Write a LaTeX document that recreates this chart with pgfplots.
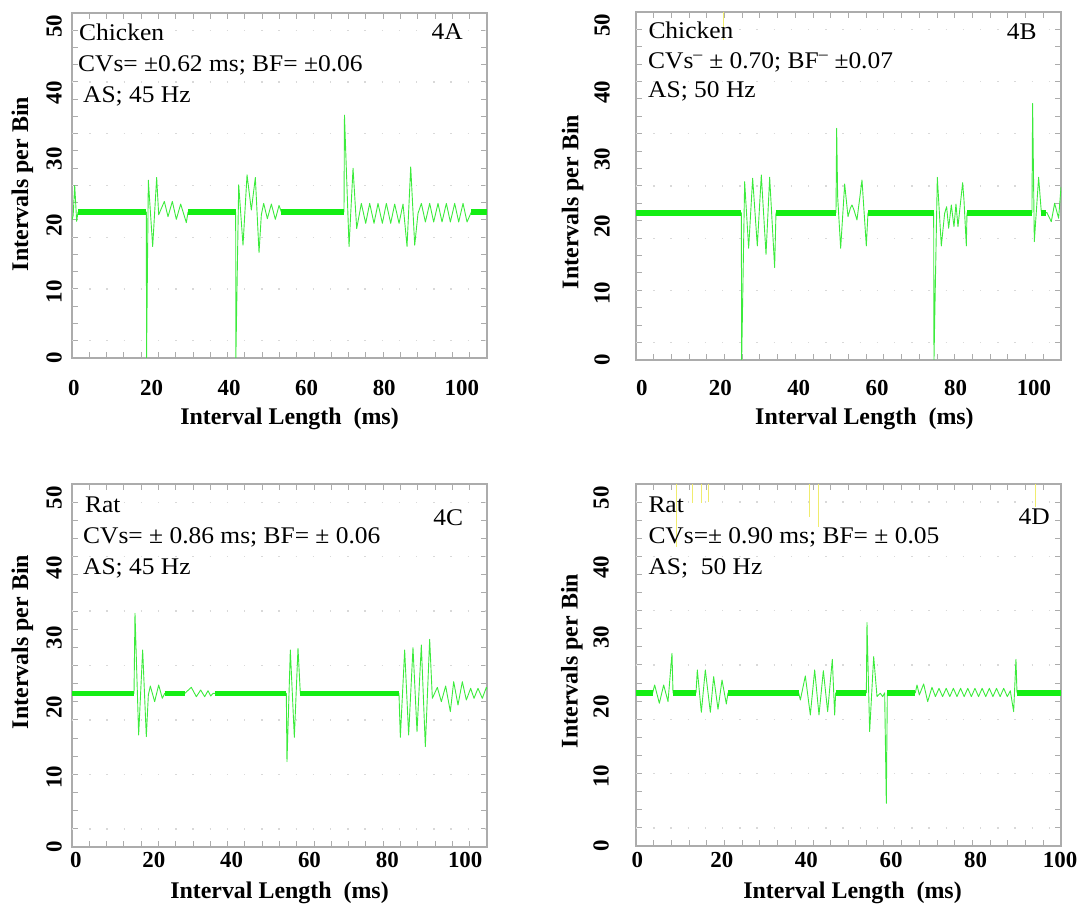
\documentclass[border=0pt]{standalone}
\usepackage{fontspec}
\setmainfont{Liberation Serif}
\newfontfamily\annot[FakeStretch=1.065,Ligatures=TeX]{Liberation Serif}
\usepackage{pgfplots}
\pgfplotsset{compat=1.18}

\definecolor{trace}{RGB}{20,238,20}
\definecolor{tracethin}{RGB}{60,235,60}
\definecolor{frame}{RGB}{172,172,172}
\definecolor{yel}{RGB}{240,236,110}

\pgfplotsset{panel/.style={
  scale only axis, anchor=south west,
  ymin=0, ymax=52,
  axis line style={draw=frame, line width=1.2bp},
  xtick={0,20,...,100}, ytick={0,10,...,50},
  minor ytick={0,2.6,...,52},
  major tick length=0pt, minor tick length=6bp,
  tick align=inside,
  tick style={draw=frame, line width=1bp},
  /pgf/number format/assume math mode=true,
  tick label style={font=\bfseries\fontsize{23}{23}\selectfont, inner sep=0pt},
  label style={font=\bfseries\fontsize{24}{24}\selectfont, inner sep=0pt},
  xlabel={Interval Length\ \ (ms)}, ylabel={Intervals per Bin},
  xlabel style={anchor=north},
  ylabel style={anchor=center},
  unbounded coords=jump,
  extra y ticks={2.6,10.4,18.2,26,33.8,41.6,49.4},
  extra y tick labels={},
  extra y tick style={grid=major, major grid style={draw=gray!30, line width=1.3bp, dash pattern=on 1.3bp off 15.9bp}},
}}

\begin{document}
\begin{tikzpicture}
\useasboundingbox (0,0) rectangle (1085bp,905bp);

% ---------------- 4A ----------------
\begin{axis}[panel, at={(72bp,547bp)}, width=415bp, height=345bp,
  xmin=-0.5, xmax=106.5, minor xtick={-0.5,3.9583,...,106.5},
  xticklabel style={anchor=north, yshift=-22bp},
  yticklabel style={xshift=-10bp, rotate=90, anchor=south},
  xlabel style={at={(axis description cs:0.5241,-0.1449)}},
  ylabel style={at={(axis description cs:-0.1193,0.5043)}}]
\addplot[tracethin, line width=0.9bp, line join=round] coordinates {
 (-0.5,20.8) (-0.2,21.5) (0.2,26.0) (0.5,22.8) (0.7,20.6) (1.05,22)
 (18.67,22) (18.72,0) (19.18,26.8) (20.30,16.8) (21.33,27.2) (21.85,21.6)
 (23.31,23.6) (24.25,21.3) (25.37,23.6) (26.40,20.9) (27.52,23.2) (28.98,20.4) (29.41,22)
 (41.70,22) (41.75,0) (42.48,26.1) (43.59,17.0) (44.63,27.6) (45.74,22.3) (46.77,27.2)
 (47.72,15.9) (48.32,21.6) (48.92,23.3) (49.87,21.0) (50.90,23.2) (51.93,20.9) (52.88,23.0) (53.48,22)
 (69.63,22) (69.75,36.6) (70.93,16.8) (71.96,28.6) (72.90,19.5)
 (74.10,23.3) (75.22,20.3) (76.25,23.3) (77.37,20.3) (78.40,23.3) (79.52,20.3) (80.55,23.3)
 (81.67,20.3) (82.70,23.2) (83.82,20.3) (84.85,23.2)
 (85.88,16.8) (86.83,28.8) (87.86,17.0) (88.71,21.8)
 (89.58,23.3) (90.61,20.5) (91.72,23.3) (92.75,20.5) (93.87,23.3) (94.90,20.5) (96.02,23.3)
 (97.05,20.5) (98.17,23.3) (99.20,20.5) (100.32,23.3) (101.35,20.5) (102.47,22) (106.5,22)
};
\addplot[trace, line width=5.5bp] coordinates {
 (1.05,22) (18.67,22) (0,nan) (29.41,22) (41.70,22) (0,nan)
 (53.48,22) (69.63,22) (0,nan) (102.47,22) (106.5,22)
};
\end{axis}

% ---------------- 4B ----------------
\begin{axis}[panel, at={(636bp,545bp)}, width=425bp, height=348bp,
  xmin=-1.5, xmax=106.9, minor xtick={-1.5,3.0167,...,106.9},
  xticklabel style={anchor=north, yshift=-20bp},
  yticklabel style={xshift=-26bp, rotate=90, anchor=south},
  xlabel style={at={(axis description cs:0.5376,-0.1379)}},
  ylabel style={at={(axis description cs:-0.1494,0.454)}}]
\addplot[yel, line width=1bp] coordinates {(20.94,52) (20.94,47.8)};
\addplot[tracethin, line width=0.9bp, line join=round] coordinates {
 (-1.5,22) (25.36,22) (25.45,0) (26.21,26.65) (27.23,16.69) (28.25,27.15) (29.44,17.04)
 (30.46,27.64) (31.66,15.79) (32.59,27.30) (33.86,13.80) (34.20,22)
 (49.51,22) (49.68,34.62) (49.93,24.41) (50.70,16.69) (51.72,26.30) (52.57,21.42) (53.16,22.66)
 (53.59,23.16) (54.10,22.41) (54.86,20.92) (56.14,26.90) (57.24,17.04) (57.67,22)
 (74.42,22) (74.50,0) (75.35,27.30) (76.37,17.04) (77.22,21.92) (77.73,22.91) (78.24,19.68)
 (78.92,23.16) (79.60,19.92) (80.11,23.31) (80.62,19.92) (81.81,26.50) (82.15,23.91) (82.75,17.04) (82.92,22)
 (99.49,22) (99.66,38.35) (100.09,17.68) (101.19,27.30) (101.87,22.17) (103.32,22.01)
 (104.42,20.67) (105.27,23.41) (106.29,21.17) (106.9,25.85)
};
\addplot[trace, line width=5.5bp] coordinates {
 (-1.5,22) (25.36,22) (0,nan) (34.20,22) (49.51,22) (0,nan)
 (57.67,22) (74.42,22) (0,nan) (82.92,22) (99.49,22) (0,nan) (101.9,22) (103.0,22)
};
\end{axis}

% ---------------- 4C ----------------
\begin{axis}[panel, at={(72bp,58bp)}, width=415bp, height=363bp,
  xmin=-1, xmax=105.6, minor xtick={-1,3.4417,...,105.6},
  xticklabel style={anchor=north, yshift=-5bp},
  yticklabel style={xshift=-10bp, rotate=90, anchor=south},
  xlabel style={at={(axis description cs:0.5,-0.0964)}},
  ylabel style={at={(axis description cs:-0.1193,0.5647)}}]
\addplot[tracethin, line width=0.9bp, line join=round] coordinates {
 (-1,22) (14.93,22) (15.18,33.47) (16.12,16.04) (17.15,28.22) (18.09,15.80) (18.61,21.77)
 (19.12,23.06) (20.23,20.82) (21.26,23.21) (22.20,21.30) (22.80,22)
 (27.94,22) (29.65,22.87) (30.94,21.53) (32.05,22.49) (33.08,21.53) (33.93,22.39) (34.62,21.63) (35.22,22) (35.64,22)
 (54.05,22) (54.22,12.22) (55.08,28.22) (56.11,15.71) (57.05,28.46) (57.65,22)
 (82.99,22) (83.34,15.71) (84.45,28.22) (85.47,16.04) (86.59,28.55) (87.62,16.52) (88.73,28.94)
 (89.76,14.37) (90.87,29.75) (91.56,21.30) (92.84,22.87) (93.87,20.82) (94.98,23.06) (96.18,19.39)
 (97.04,23.68) (98.15,20.34) (99.26,23.68) (100.29,21.06) (101.40,22.73) (102.26,21.30)
 (103.28,22.73) (104.40,21.30) (105.43,22.87) (105.6,22.6)
};
\addplot[trace, line width=5.5bp] coordinates {
 (-1,22) (14.93,22) (0,nan) (22.80,22) (27.94,22) (0,nan)
 (35.64,22) (54.05,22) (0,nan) (57.65,22) (82.99,22)
};
\end{axis}

% ---------------- 4D ----------------
\begin{axis}[panel, at={(636bp,59bp)}, width=425bp, height=362bp,
  xmin=-0.3, xmax=100.2, minor xtick={-0.3,3.8875,...,100.2},
  xticklabel style={anchor=north, yshift=-6bp},
  yticklabel style={xshift=-27bp, rotate=90, anchor=south},
  xlabel style={at={(axis description cs:0.5094,-0.0994)}},
  ylabel style={at={(axis description cs:-0.1506,0.511)}}]
\addplot[yel, line width=1bp] coordinates {
 (9.32,52) (9.32,42.96) (0,nan) (13.11,52) (13.11,49.28) (0,nan)
 (15.24,52) (15.24,49.28) (0,nan) (16.96,52) (16.96,49.4) (0,nan)
 (40.84,52) (40.84,47.27) (0,nan) (42.81,52) (42.81,45.83) (0,nan)
 (94.28,52) (94.28,48.7)
};
\addplot[tracethin, line width=0.9bp, line join=round] coordinates {
 (-0.3,22) (3.64,22) (4.11,23.13) (5.22,20.50) (6.24,23.13) (7.27,20.74) (8.21,27.68) (8.45,22)
 (13.89,22) (14.20,25.29) (15.15,19.21) (16.09,25.29) (17.28,19.21) (18.06,24.33) (19.09,19.64)
 (20.04,23.85) (21.06,20.40) (21.45,22)
 (38.16,22) (38.56,20.98) (39.74,24.43) (40.92,18.82) (41.95,25.29) (42.97,18.82) (44.00,25.19)
 (45.02,19.30) (46.12,26.82) (46.68,18.82) (46.91,22)
 (54.17,22) (54.32,32.09) (54.95,16.43) (55.90,27.20) (56.69,21.46) (57.47,21.94) (58.03,21.46)
 (58.50,22) (58.89,6.13) (59.13,22)
 (65.75,22) (66.15,23.13) (66.70,21.70) (67.72,23.28) (68.67,20.74) (69.69,22.80)
 (70.50,21.46) (71.35,22.65) (72.20,21.46) (73.05,22.65) (73.90,21.46) (74.75,22.65) (75.60,21.46)
 (76.45,22.65) (77.30,21.46) (78.15,22.65) (79.00,21.46) (79.85,22.65) (80.70,21.46) (81.55,22.65)
 (82.40,21.46) (83.25,22.65) (84.10,21.46) (84.95,22.65) (85.80,21.46) (86.65,22.65) (87.50,21.46)
 (88.21,22.3) (89.00,19.30) (89.55,26.82) (89.79,22) (100.2,22)
};
\addplot[trace, line width=5.5bp] coordinates {
 (-0.3,22) (3.64,22) (0,nan) (8.45,22) (13.89,22) (0,nan) (21.45,22) (38.16,22) (0,nan)
 (46.91,22) (54.17,22) (0,nan) (59.13,22) (65.75,22) (0,nan) (89.79,22) (100.2,22)
};
\end{axis}

% ---------------- panel texts ----------------
\begin{scope}[every node/.style={inner sep=0pt, font=\annot\fontsize{24}{24}\selectfont}]
\node[anchor=base west] at (79bp,864.3bp) {Chicken};
\node[anchor=base west] at (78bp,833.3bp) {CVs= ±0.62 ms; BF= ±0.06};
\node[anchor=base west] at (83bp,802.3bp) {AS; 45 Hz};
\node[anchor=base east] at (463bp,865bp) {4A};

\node[anchor=base west] at (648.3bp,866bp) {Chicken};
\node[anchor=base west] at (648bp,836.7bp) {CVs\textsuperscript{\textendash} ± 0.70; BF\textsuperscript{\textendash} ±0.07};
\node[anchor=base west] at (648bp,807.3bp) {AS; 50 Hz};
\node[anchor=base east] at (1036.7bp,865bp) {4B};

\node[anchor=base west] at (85bp,392.3bp) {Rat};
\node[anchor=base west] at (83bp,361.7bp) {CVs= ± 0.86 ms; BF= ± 0.06};
\node[anchor=base west] at (83bp,330bp) {AS; 45 Hz};
\node[anchor=base east] at (463.3bp,379.3bp) {4C};

\node[anchor=base west] at (648.3bp,392.3bp) {Rat};
\node[anchor=base west] at (648.3bp,361.7bp) {CVs=± 0.90 ms; BF= ± 0.05};
\node[anchor=base west] at (648.3bp,330.7bp) {AS;\ \ 50 Hz};
\node[anchor=base east] at (1050bp,380bp) {4D};
\end{scope}
\end{tikzpicture}
\end{document}
